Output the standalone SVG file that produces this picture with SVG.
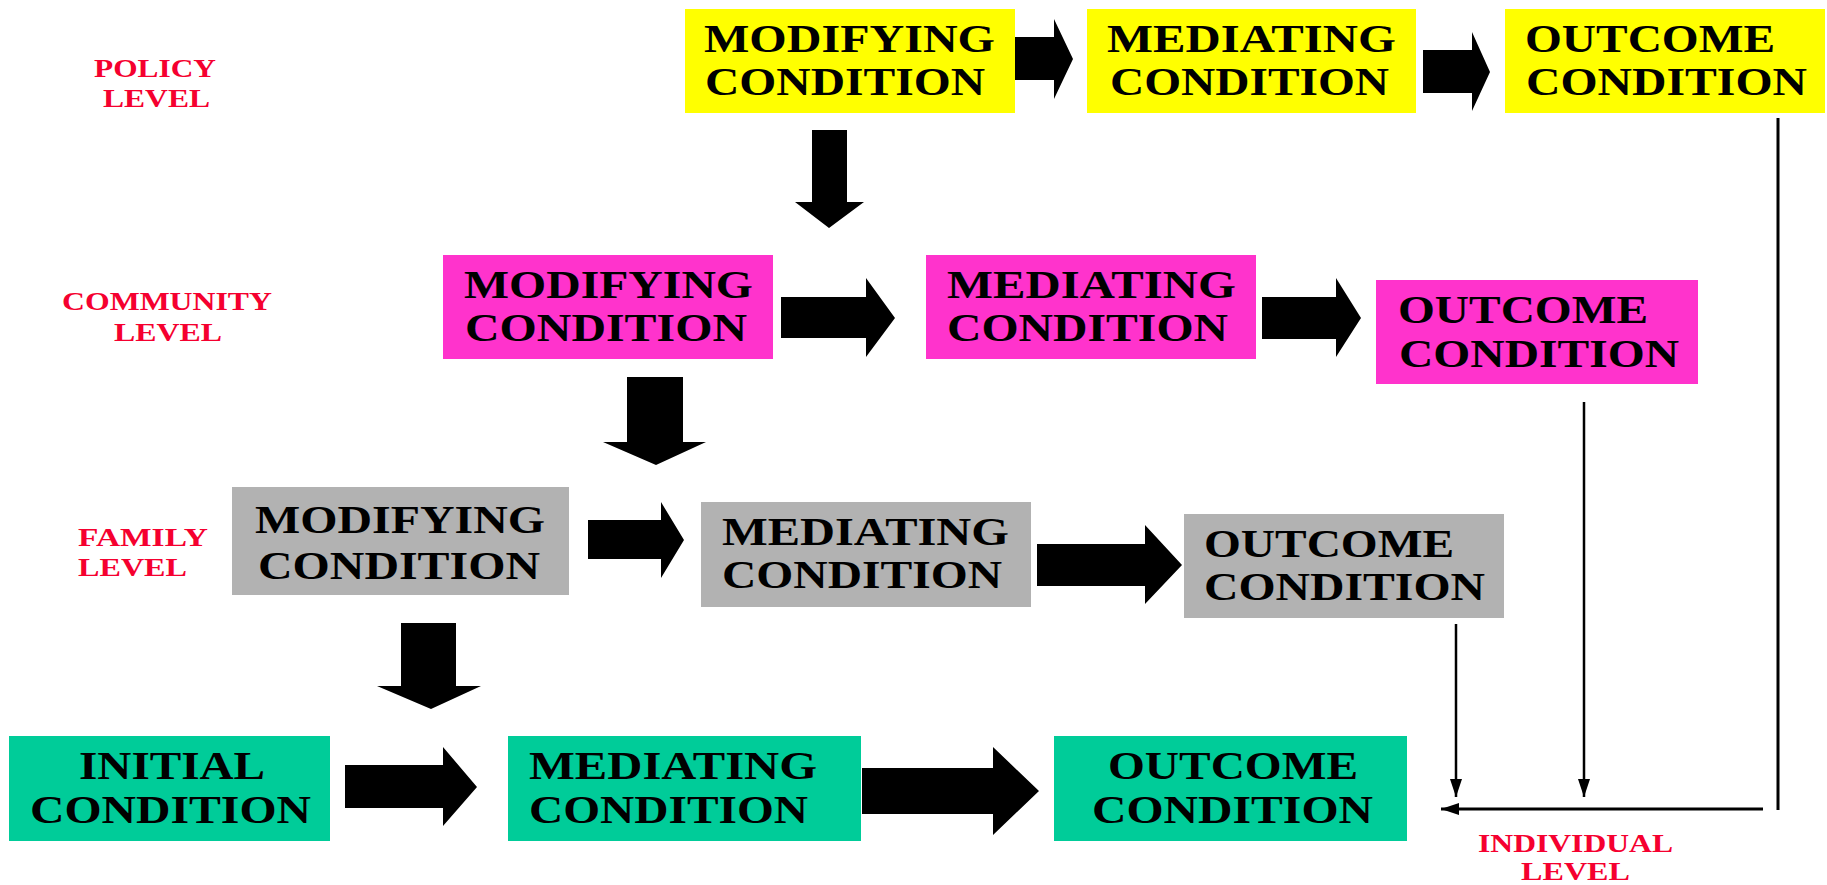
<svg xmlns="http://www.w3.org/2000/svg" width="1827" height="885" viewBox="0 0 1827 885">
  <style>
    .box { stroke: none; }
    .policy { fill: #FFFF00; }
    .community { fill: #FF33CC; }
    .family { fill: #B2B2B2; }
    .individual { fill: #00CC99; }
    .t { font-family: "Liberation Serif", "Times New Roman", serif; font-weight: bold; font-size: 39px; fill: #000; }
    .lvl { font-family: "Liberation Serif", "Times New Roman", serif; font-weight: bold; font-size: 26px; fill: #F5002F; }
    .block { fill: #000; }
    .wire { stroke: #000; stroke-width: 3; fill: none; }
  </style>
  <defs>
    <marker id="head" viewBox="0 0 18 12" refX="18" refY="6" markerWidth="18" markerHeight="12" markerUnits="userSpaceOnUse" orient="auto">
      <path d="M0,0 L18,6 L0,12 z" fill="#000"/>
    </marker>
  </defs>

  <!-- level labels -->
  <g id="labels">
    <text class="lvl" x="94" y="77" textLength="122" lengthAdjust="spacingAndGlyphs">POLICY</text>
    <text class="lvl" x="103" y="107" textLength="107" lengthAdjust="spacingAndGlyphs">LEVEL</text>
    <text class="lvl" x="62" y="310" textLength="210" lengthAdjust="spacingAndGlyphs">COMMUNITY</text>
    <text class="lvl" x="114" y="341" textLength="108" lengthAdjust="spacingAndGlyphs">LEVEL</text>
    <text class="lvl" x="78" y="546" textLength="130" lengthAdjust="spacingAndGlyphs">FAMILY</text>
    <text class="lvl" x="78" y="576" textLength="109" lengthAdjust="spacingAndGlyphs">LEVEL</text>
    <text class="lvl" x="1478" y="852" textLength="195" lengthAdjust="spacingAndGlyphs">INDIVIDUAL</text>
    <text class="lvl" x="1521" y="880" textLength="109" lengthAdjust="spacingAndGlyphs">LEVEL</text>
  </g>

  <!-- policy level -->
  <g id="policy-modifying">
    <rect class="box policy" x="685" y="9" width="330" height="104"/>
    <text class="t" x="704" y="52" textLength="291" lengthAdjust="spacingAndGlyphs">MODIFYING</text>
    <text class="t" x="705" y="95" textLength="280" lengthAdjust="spacingAndGlyphs">CONDITION</text>
  </g>
  <g id="policy-mediating">
    <rect class="box policy" x="1087" y="9" width="329" height="104"/>
    <text class="t" x="1107" y="52" textLength="289" lengthAdjust="spacingAndGlyphs">MEDIATING</text>
    <text class="t" x="1110" y="95" textLength="279" lengthAdjust="spacingAndGlyphs">CONDITION</text>
  </g>
  <g id="policy-outcome">
    <rect class="box policy" x="1505" y="9" width="320" height="104"/>
    <text class="t" x="1525" y="52" textLength="250" lengthAdjust="spacingAndGlyphs">OUTCOME</text>
    <text class="t" x="1526" y="95" textLength="281" lengthAdjust="spacingAndGlyphs">CONDITION</text>
  </g>

  <!-- community level -->
  <g id="community-modifying">
    <rect class="box community" x="443" y="255" width="330" height="104"/>
    <text class="t" x="464" y="298" textLength="289" lengthAdjust="spacingAndGlyphs">MODIFYING</text>
    <text class="t" x="465" y="341" textLength="282" lengthAdjust="spacingAndGlyphs">CONDITION</text>
  </g>
  <g id="community-mediating">
    <rect class="box community" x="926" y="255" width="330" height="104"/>
    <text class="t" x="947" y="298" textLength="289" lengthAdjust="spacingAndGlyphs">MEDIATING</text>
    <text class="t" x="947" y="341" textLength="281" lengthAdjust="spacingAndGlyphs">CONDITION</text>
  </g>
  <g id="community-outcome">
    <rect class="box community" x="1376" y="280" width="322" height="104"/>
    <text class="t" x="1398" y="323" textLength="250" lengthAdjust="spacingAndGlyphs">OUTCOME</text>
    <text class="t" x="1399" y="367" textLength="280" lengthAdjust="spacingAndGlyphs">CONDITION</text>
  </g>

  <!-- family level -->
  <g id="family-modifying">
    <rect class="box family" x="232" y="487" width="337" height="108"/>
    <text class="t" x="255" y="533" textLength="290" lengthAdjust="spacingAndGlyphs">MODIFYING</text>
    <text class="t" x="258" y="579" textLength="282" lengthAdjust="spacingAndGlyphs">CONDITION</text>
  </g>
  <g id="family-mediating">
    <rect class="box family" x="701" y="502" width="330" height="105"/>
    <text class="t" x="722" y="545" textLength="287" lengthAdjust="spacingAndGlyphs">MEDIATING</text>
    <text class="t" x="722" y="588" textLength="280" lengthAdjust="spacingAndGlyphs">CONDITION</text>
  </g>
  <g id="family-outcome">
    <rect class="box family" x="1184" y="514" width="320" height="104"/>
    <text class="t" x="1204" y="557" textLength="250" lengthAdjust="spacingAndGlyphs">OUTCOME</text>
    <text class="t" x="1204" y="600" textLength="281" lengthAdjust="spacingAndGlyphs">CONDITION</text>
  </g>

  <!-- individual level -->
  <g id="individual-initial">
    <rect class="box individual" x="9" y="736" width="321" height="105"/>
    <text class="t" x="79" y="779" textLength="186" lengthAdjust="spacingAndGlyphs">INITIAL</text>
    <text class="t" x="30" y="823" textLength="281" lengthAdjust="spacingAndGlyphs">CONDITION</text>
  </g>
  <g id="individual-mediating">
    <rect class="box individual" x="508" y="736" width="353" height="105"/>
    <text class="t" x="529" y="779" textLength="288" lengthAdjust="spacingAndGlyphs">MEDIATING</text>
    <text class="t" x="529" y="823" textLength="279" lengthAdjust="spacingAndGlyphs">CONDITION</text>
  </g>
  <g id="individual-outcome">
    <rect class="box individual" x="1054" y="736" width="353" height="105"/>
    <text class="t" x="1108" y="779" textLength="250" lengthAdjust="spacingAndGlyphs">OUTCOME</text>
    <text class="t" x="1092" y="823" textLength="281" lengthAdjust="spacingAndGlyphs">CONDITION</text>
  </g>

  <!-- connectors -->
  <g id="connectors">
    <!-- block arrows -->
    <polygon class="block" points="1015,37 1054,37 1054,19 1073,59 1054,99 1054,80 1015,80"/>
    <polygon class="block" points="1423,50 1472,50 1472,32 1490,72 1472,111 1472,93 1423,93"/>
    <polygon class="block" points="812,130 847,130 847,202 864,202 829,228 795,202 812,202"/>
    <polygon class="block" points="781,297 866,297 866,278 895,318 866,357 866,338 781,338"/>
    <polygon class="block" points="1262,297 1336,297 1336,278 1361,318 1336,357 1336,339 1262,339"/>
    <polygon class="block" points="627,377 683,377 683,442 706,442 656,465 603,442 627,442"/>
    <polygon class="block" points="588,520 661,520 661,502 684,540 661,578 661,559 588,559"/>
    <polygon class="block" points="1037,544 1145,544 1145,525 1182,565 1145,604 1145,586 1037,586"/>
    <polygon class="block" points="401,623 456,623 456,686 481,686 431,709 377,686 401,686"/>
    <polygon class="block" points="345,765 443,765 443,747 477,787 443,826 443,808 345,808"/>
    <polygon class="block" points="862,768 993,768 993,747 1039,791 993,835 993,814 862,814"/>

    <!-- feedback lines into the individual outcome -->
    <line class="wire" x1="1778" y1="118" x2="1778" y2="810"/>
    <line class="wire" x1="1763" y1="809" x2="1441" y2="809" marker-end="url(#head)"/>
    <line class="wire" x1="1584" y1="402" x2="1584" y2="797" marker-end="url(#head)" style="stroke-width:2.5"/>
    <line class="wire" x1="1456" y1="624" x2="1456" y2="797" marker-end="url(#head)" style="stroke-width:2.5"/>
  </g>
</svg>
